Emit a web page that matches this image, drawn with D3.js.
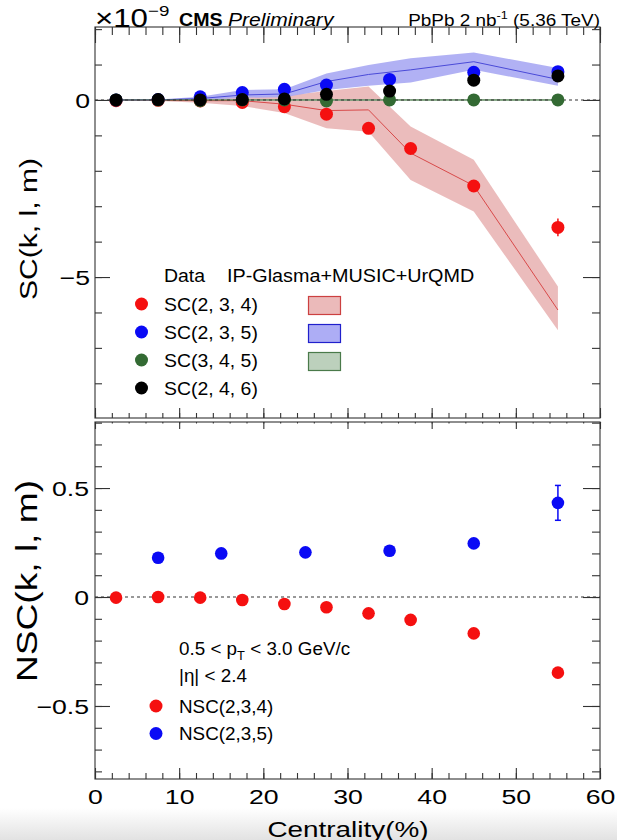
<!DOCTYPE html>
<html>
<head>
<meta charset="utf-8">
<script src="https://cdn.jsdelivr.net/npm/d3@7"></script>
<style>
  body { margin: 0; background: #fff; }
  svg { display: block; font-family: "Liberation Sans", Arial, Helvetica, sans-serif; }
</style>
</head>
<body>
<div id="chart-area"></div>
<script>
// ---- data (SC in units of 1e-9) ----
const centFine   = [2.5, 7.5, 12.5, 17.5, 22.5, 27.5, 32.5, 37.5, 45, 55];
const centCoarse = [2.5, 7.5, 12.5, 17.5, 22.5, 27.5, 35, 45, 55];

const sc234    = [-0.02, -0.01, -0.03, -0.07, -0.19, -0.40, -0.80, -1.37, -2.43, -3.60];
const sc234Err = [0.01, 0.01, 0.01, 0.02, 0.02, 0.03, 0.04, 0.06, 0.09, 0.25];
const sc235    = [0.00, 0.01, 0.09, 0.21, 0.30, 0.42, 0.58, 0.78, 0.80];
const sc345    = [0.00, 0.00, -0.02, 0.00, 0.00, -0.03, 0.00, 0.00, 0.00];
const sc246    = [0.00, 0.01, 0.00, 0.01, 0.03, 0.16, 0.25, 0.56, 0.68];

// IP-Glasma+MUSIC+UrQMD bands
const modelCent    = [2.5, 7.5, 12.5, 17.5, 22.5, 27.5, 32.5, 37.5, 45, 55];
const sc234Model   = [0.00, -0.01, -0.02, -0.02, -0.12, -0.30, -0.28, -1.50, -2.42, -5.93];
const sc234Low     = [0.00, -0.03, -0.08, -0.17, -0.37, -0.80, -0.90, -2.26, -3.15, -6.50];
const sc234High    = [0.00, 0.01, 0.03, 0.12, 0.12, 0.25, 0.38, -0.75, -1.69, -5.27];
const sc235Model   = [0.00, 0.00, 0.04, 0.14, 0.17, 0.52, 0.72, 0.85, 1.08, 0.58];
const sc235Low     = [0.00, -0.01, -0.01, 0.06, 0.08, 0.28, 0.40, 0.49, 0.85, 0.40];
const sc235High    = [0.00, 0.01, 0.09, 0.28, 0.30, 0.75, 0.99, 1.18, 1.34, 0.90];
const sc345Model   = [0.00, 0.00, 0.00, 0.00, 0.00, 0.00, 0.00, 0.00, 0.00, 0.00];
const sc345Low     = [-0.02, -0.02, -0.02, -0.02, -0.02, -0.02, -0.02, -0.02, -0.02, -0.02];
const sc345High    = [0.02, 0.02, 0.02, 0.02, 0.02, 0.02, 0.02, 0.02, 0.02, 0.02];

// normalized SC
const nsc234    = [-0.003, 0.000, -0.003, -0.014, -0.032, -0.047, -0.075, -0.105, -0.167, -0.347];
const nscCent235 = [7.5, 15, 25, 35, 45, 55];
const nsc235    = [0.180, 0.200, 0.205, 0.212, 0.246, 0.432];
const nsc235Err = [0.005, 0.005, 0.005, 0.006, 0.008, 0.080];

const xTickLabels   = [0, 10, 20, 30, 40, 50, 60];
const scTickLabels  = [-5, 0];
const nscTickLabels = [-0.5, 0, 0.5];

const legendTop = ["SC(2, 3, 4)", "SC(2, 3, 5)", "SC(3, 4, 5)", "SC(2, 4, 6)"];
const legendBot = ["NSC(2,3,4)", "NSC(2,3,5)"];

// ---- layout ----
const W = 617, H = 840;
const plotLeft = 95, plotRight = 600;
const topPanel = {TOP: 27, BOTTOM: 418};
const botPanel = {TOP: 422, BOTTOM: 779};

const RED = "#f51010", BLUE = "#0a0af5", GREEN = "#336a33", BLACK = "#000";

let svg = d3.select("#chart-area").append("svg")
            .attr("width", W)
            .attr("height", H);

// grey shade at the very bottom of the screenshot
let defs = svg.append("defs");
let grad = defs.append("linearGradient").attr("id", "shade")
               .attr("x1", 0).attr("y1", 0).attr("x2", 0).attr("y2", 1);
grad.append("stop").attr("offset", "0%").attr("stop-color", "#fff");
grad.append("stop").attr("offset", "100%").attr("stop-color", "#e2e2e2");
svg.append("rect").attr("x", 0).attr("y", 808).attr("width", W).attr("height", 32)
   .attr("fill", "url(#shade)");

// scales
const x = d3.scaleLinear().domain([0, 60]).range([plotLeft, plotRight]);
const yTop = d3.scaleLinear().domain([-8.98, 2.06]).range([topPanel.BOTTOM, topPanel.TOP]);
const yBot = d3.scaleLinear().domain([-0.835, 0.803]).range([botPanel.BOTTOM, botPanel.TOP]);

// stretched text helper (ROOT fonts render wider than Arial)
function sText(parent, tx, ty, str, size, sx, anchor) {
  return parent.append("text")
    .attr("transform", `translate(${tx},${ty}) scale(${sx},1)`)
    .attr("font-size", size)
    .attr("text-anchor", anchor || "start")
    .attr("fill", "#000")
    .text(str);
}

// inward ticks through d3 axes
function drawTicks(axisFn, scale, values, len, tx, ty) {
  svg.append("g")
     .attr("transform", `translate(${tx},${ty})`)
     .call(axisFn(scale).tickValues(values).tickSize(-len).tickFormat(""))
     .call(g => g.select(".domain").remove())
     .selectAll("line").attr("stroke", "#333").attr("stroke-width", 1.1);
}

const xMinor = d3.range(0, 60.1, 2);
const xMajor = xTickLabels;

// ================= top panel =================
let topG = svg.append("g").attr("id", "topPanel");

function band(low, high, cent) {
  return d3.area()
    .x((d, i) => x(cent[i]))
    .y0((d, i) => yTop(low[i]))
    .y1((d, i) => yTop(high[i]))(cent);
}
function curve(vals, cent, ys) {
  return d3.line().x((d, i) => x(cent[i])).y((d, i) => ys(vals[i]))(cent);
}

topG.append("path").attr("d", band(sc234Low, sc234High, modelCent)).attr("fill", "#eab8b8").attr("opacity", 0.95);
topG.append("path").attr("d", band(sc235Low, sc235High, modelCent)).attr("fill", "#a9a9f3").attr("opacity", 0.9);
topG.append("path").attr("d", band(sc345Low, sc345High, modelCent)).attr("fill", "#b9ceb9");
topG.append("path").attr("d", curve(sc234Model, modelCent, yTop)).attr("fill", "none").attr("stroke", "#d84a4a").attr("stroke-width", 1);
topG.append("path").attr("d", curve(sc235Model, modelCent, yTop)).attr("fill", "none").attr("stroke", "#4a4ad8").attr("stroke-width", 1);
topG.append("path").attr("d", curve(sc345Model, modelCent, yTop)).attr("fill", "none").attr("stroke", "#3d6e3d").attr("stroke-width", 1);

// zero line
topG.append("line")
   .attr("x1", x(0)).attr("x2", x(60))
   .attr("y1", yTop(0)).attr("y2", yTop(0))
   .attr("stroke", "#333").attr("stroke-width", 1.1).attr("stroke-dasharray", "3,3");

// error bar on the last red point
topG.append("line")
   .attr("x1", x(55)).attr("x2", x(55))
   .attr("y1", yTop(sc234[9] - sc234Err[9])).attr("y2", yTop(sc234[9] + sc234Err[9]))
   .attr("stroke", RED).attr("stroke-width", 1.5);

function dots(parent, cent, vals, ys, color, r) {
  parent.append("g").selectAll("circle")
        .data(vals).enter().append("circle")
        .attr("cx", (d, i) => x(cent[i]))
        .attr("cy", d => ys(d))
        .attr("r", r)
        .attr("fill", color);
}
dots(topG, centFine, sc234, yTop, RED, 6.5);
dots(topG, centCoarse, sc235, yTop, BLUE, 6.5);
dots(topG, centCoarse, sc345, yTop, GREEN, 6.5);
dots(topG, centCoarse, sc246, yTop, BLACK, 6.5);

// frame + ticks
svg.append("rect").attr("x", plotLeft).attr("y", topPanel.TOP)
   .attr("width", plotRight - plotLeft).attr("height", topPanel.BOTTOM - topPanel.TOP)
   .attr("fill", "none").attr("stroke", "#444").attr("stroke-width", 1.2);

drawTicks(d3.axisTop, x, xMinor, 8, 0, topPanel.TOP);
drawTicks(d3.axisTop, x, xMajor, 16, 0, topPanel.TOP);
drawTicks(d3.axisBottom, x, xMinor, 5, 0, topPanel.BOTTOM);
drawTicks(d3.axisBottom, x, xMajor, 10, 0, topPanel.BOTTOM);
const yTopMinor = d3.range(-8, 2.01, 1);
drawTicks(d3.axisLeft, yTop, yTopMinor, 7, plotLeft, 0);
drawTicks(d3.axisLeft, yTop, scTickLabels, 15, plotLeft, 0);
drawTicks(d3.axisRight, yTop, yTopMinor, 8, plotRight, 0);
drawTicks(d3.axisRight, yTop, scTickLabels, 17, plotRight, 0);

// y tick labels
svg.append("g").attr("transform", `translate(${plotLeft},0)`)
   .call(d3.axisLeft(yTop).tickValues(scTickLabels).tickSize(0).tickPadding(0))
   .call(g => g.select(".domain").remove())
   .selectAll("text")
   .attr("font-family", "Liberation Sans, Arial, sans-serif")
   .attr("font-size", 20.5).attr("fill", "#000")
   .attr("x", -5 / 1.3).attr("dy", "0.35em")
   .attr("transform", "scale(1.3,1)");

// y title
sText(svg, 37, 229, "SC(k, l, m)", 23.5, 1.28, "middle")
  .attr("transform", "translate(37,229) rotate(-90) scale(1.28,1)");

// header
let mult = svg.append("text").attr("transform", "translate(95,27) scale(1.25,1)")
              .attr("font-size", 25).attr("fill", "#000");
mult.append("tspan").text("×10");
mult.append("tspan").attr("font-size", 15).attr("dy", -11).text("−9");

sText(svg, 179, 26, "CMS", 18.5, 1.06).attr("font-weight", "bold");
sText(svg, 228, 26, "Preliminary", 18.5, 1.14).attr("font-style", "italic");

let lumi = svg.append("text").attr("transform", "translate(600,26) scale(1.1,1)")
              .attr("font-size", 17.2).attr("text-anchor", "end").attr("fill", "#000");
lumi.append("tspan").text("PbPb 2 nb");
lumi.append("tspan").attr("font-size", 11.5).attr("dy", -7).text("-1");
lumi.append("tspan").attr("dy", 7).text(" (5.36 TeV)");

// legend
sText(svg, 164, 281.5, "Data", 18.5, 1.05);
sText(svg, 227, 281.5, "IP-Glasma+MUSIC+UrQMD", 18.5, 1.07);
const legY = [304, 332, 360, 388];
const legColors = [RED, BLUE, GREEN, BLACK];
const boxFill = ["#ebbaba", "#adadf5", "#bcd0bc"];
const boxStroke = ["#cc4040", "#2020cc", "#4a7a4a"];
legendTop.forEach((lab, i) => {
  svg.append("circle").attr("cx", 141.5).attr("cy", legY[i]).attr("r", 6.5).attr("fill", legColors[i]);
  sText(svg, 164, legY[i] + 6.6, lab, 18.5, 1.05);
  if (i < 3) {
    svg.append("rect").attr("x", 308.5).attr("y", legY[i] - 7.5)
       .attr("width", 32).attr("height", 18)
       .attr("fill", boxFill[i]).attr("stroke", boxStroke[i]).attr("stroke-width", 1.2);
  }
});

// ================= bottom panel =================
let botG = svg.append("g").attr("id", "bottomPanel");

botG.append("line")
   .attr("x1", x(0)).attr("x2", x(60))
   .attr("y1", yBot(0)).attr("y2", yBot(0))
   .attr("stroke", "#333").attr("stroke-width", 1.1).attr("stroke-dasharray", "3,3");

// error bars for NSC(2,3,5)
nscCent235.forEach((c, i) => {
  const y0 = yBot(nsc235[i] - nsc235Err[i]), y1 = yBot(nsc235[i] + nsc235Err[i]);
  botG.append("line").attr("x1", x(c)).attr("x2", x(c)).attr("y1", y0).attr("y2", y1)
     .attr("stroke", BLUE).attr("stroke-width", 1.5);
  if (nsc235Err[i] > 0.03) {
    [y0, y1].forEach(yy => botG.append("line")
      .attr("x1", x(c) - 3).attr("x2", x(c) + 3).attr("y1", yy).attr("y2", yy)
      .attr("stroke", BLUE).attr("stroke-width", 1.5));
  }
});

dots(botG, centFine, nsc234, yBot, RED, 6.3);
dots(botG, nscCent235, nsc235, yBot, BLUE, 6.3);

svg.append("rect").attr("x", plotLeft).attr("y", botPanel.TOP)
   .attr("width", plotRight - plotLeft).attr("height", botPanel.BOTTOM - botPanel.TOP)
   .attr("fill", "none").attr("stroke", "#444").attr("stroke-width", 1.2);

drawTicks(d3.axisTop, x, xMajor, 7, 0, botPanel.TOP);
drawTicks(d3.axisTop, x, xMinor, 1.5, 0, botPanel.TOP);
drawTicks(d3.axisBottom, x, xMinor, 6, 0, botPanel.BOTTOM);
drawTicks(d3.axisBottom, x, xMajor, 11, 0, botPanel.BOTTOM);
const yBotMinor = d3.range(-8, 8.01, 1).map(v => v / 10);
drawTicks(d3.axisLeft, yBot, yBotMinor, 7, plotLeft, 0);
drawTicks(d3.axisLeft, yBot, nscTickLabels, 15, plotLeft, 0);
drawTicks(d3.axisRight, yBot, yBotMinor, 8, plotRight, 0);
drawTicks(d3.axisRight, yBot, nscTickLabels, 17, plotRight, 0);

svg.append("g").attr("transform", `translate(${plotLeft},0)`)
   .call(d3.axisLeft(yBot).tickValues(nscTickLabels).tickSize(0).tickPadding(0).tickFormat(d3.format("")))
   .call(g => g.select(".domain").remove())
   .selectAll("text")
   .attr("font-family", "Liberation Sans, Arial, sans-serif")
   .attr("font-size", 20.5).attr("fill", "#000")
   .attr("x", -6 / 1.3).attr("dy", "0.35em")
   .attr("transform", "scale(1.3,1)");

// x tick labels
svg.append("g").attr("transform", `translate(0,${botPanel.BOTTOM})`)
   .call(d3.axisBottom(x).tickValues(xTickLabels).tickSize(0).tickPadding(10))
   .call(g => g.select(".domain").remove())
   .selectAll("text")
   .attr("font-family", "Liberation Sans, Arial, sans-serif")
   .attr("font-size", 20.5).attr("fill", "#000")
   .attr("transform", "scale(1.3,1)")
   .attr("x", 0);

sText(svg, 348, 837, "Centrality(%)", 22.5, 1.24, "middle");

sText(svg, 37, 581, "NSC(k, l, m)", 29, 1.28, "middle")
  .attr("transform", "translate(37,581) rotate(-90) scale(1.28,1)");

// kinematic text
let kin = svg.append("text").attr("transform", "translate(179,655) scale(1.07,1)")
             .attr("font-size", 17.6).attr("fill", "#000");
kin.append("tspan").text("0.5 < p");
kin.append("tspan").attr("font-size", 12).attr("dy", 5).text("T");
kin.append("tspan").attr("dy", -5).text(" < 3.0 GeV/c");
sText(svg, 179, 681.5, "|η| < 2.4", 17.6, 1.07);

const legBotY = [706, 733.5];
legendBot.forEach((lab, i) => {
  svg.append("circle").attr("cx", 156).attr("cy", legBotY[i]).attr("r", 6.5).attr("fill", [RED, BLUE][i]);
  sText(svg, 179, legBotY[i] + 6.5, lab, 17.6, 1.07);
});
</script>
</body>
</html>
